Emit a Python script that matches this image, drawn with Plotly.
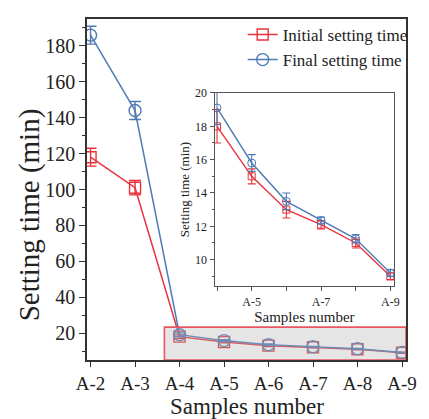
import plotly.graph_objects as go

samples = ["A-2", "A-3", "A-4", "A-5", "A-6", "A-7", "A-8", "A-9"]
initial = [118, 101, 18.0, 15.0, 13.0, 12.1, 11.0, 9.0]
initial_err = [5, 4, 1.0, 0.45, 0.5, 0.25, 0.3, 0.2]
final = [186, 144, 19.1, 15.8, 13.5, 12.35, 11.25, 9.2]
final_err = [5, 5, 1.0, 0.5, 0.5, 0.2, 0.25, 0.2]

inset_samples = samples[2:]
inset_initial = initial[2:]
inset_initial_err = initial_err[2:]
inset_final = final[2:]
inset_final_err = final_err[2:]
inset_ticktext = ["", "A-5", "", "A-7", "", "A-9"]

RED = "#e8323c"
BLUE = "#4f7bb5"
FONT = "Liberation Serif"
AX = "#333333"

fig = go.Figure()

fig.add_trace(go.Scatter(
    x=samples, y=initial, name="Initial setting time", mode="lines+markers",
    line=dict(color=RED, width=1.5),
    marker=dict(symbol="square-open", size=11, color=RED, line=dict(width=1.4)),
    error_y=dict(type="data", array=initial_err, color=RED, thickness=1.4, width=6),
    xaxis="x", yaxis="y"))
fig.add_trace(go.Scatter(
    x=samples, y=final, name="Final setting time", mode="lines+markers",
    line=dict(color=BLUE, width=1.5),
    marker=dict(symbol="circle-open", size=12, color=BLUE, line=dict(width=1.4)),
    error_y=dict(type="data", array=final_err, color=BLUE, thickness=1.4, width=6),
    xaxis="x", yaxis="y"))

fig.add_trace(go.Scatter(
    x=inset_samples, y=inset_initial, mode="lines+markers", showlegend=False,
    line=dict(color=RED, width=1.4),
    marker=dict(symbol="square-open", size=7, color=RED, line=dict(width=1)),
    error_y=dict(type="data", array=inset_initial_err, color=RED, thickness=1.1, width=4),
    xaxis="x2", yaxis="y2"))
fig.add_trace(go.Scatter(
    x=inset_samples, y=inset_final, mode="lines+markers", showlegend=False,
    line=dict(color=BLUE, width=1.4),
    marker=dict(symbol="circle-open", size=8, color=BLUE, line=dict(width=1)),
    error_y=dict(type="data", array=inset_final_err, color=BLUE, thickness=1.1, width=4),
    xaxis="x2", yaxis="y2"))

fig.add_shape(type="rect", xref="x", yref="y", x0=1.66, x1=7.09, y0=5, y1=23.3,
              line=dict(color="#e85560", width=1.6),
              fillcolor="rgba(175,175,175,0.33)", layer="above")

fig.update_layout(
    width=429, height=419,
    margin=dict(l=87, r=13, t=14, b=59),
    paper_bgcolor="white", plot_bgcolor="white",
    font=dict(family=FONT, color="#222222"),
    showlegend=True,
    legend=dict(x=0.488, y=1.006, xanchor="left", yanchor="top",
                font=dict(family=FONT, size=17, color="#222222"),
                bgcolor="rgba(0,0,0,0)", tracegroupgap=0, itemwidth=30),
    xaxis=dict(type="category", range=[-0.08, 7.09], showgrid=False, zeroline=False,
               showline=True, linecolor=AX, linewidth=1.5, mirror=True,
               ticks="outside", ticklen=5, tickwidth=1.3, tickcolor=AX,
               tickfont=dict(size=19, family=FONT)),
    yaxis=dict(range=[5, 195], tick0=0, dtick=20, showgrid=False, zeroline=False,
               showline=True, linecolor=AX, linewidth=1.5, mirror=True,
               ticks="outside", ticklen=6, tickwidth=1.3, tickcolor=AX,
               minor=dict(ticks="outside", ticklen=3, dtick=10, tick0=0, tickcolor=AX, showgrid=False),
               tickfont=dict(size=20, family=FONT)),
    xaxis2=dict(type="category", domain=[0.4, 0.963], anchor="y2", range=[-0.07, 5.11],
                tickmode="array", tickvals=inset_samples, ticktext=inset_ticktext,
                showgrid=False, zeroline=False, showline=True, linecolor="#555555", linewidth=1.2,
                mirror=True, ticks="outside", ticklen=4, tickwidth=1, tickcolor="#555555",
                tickfont=dict(size=12, family=FONT),
                title=dict(text="Samples number", font=dict(size=15, family=FONT), standoff=1)),
    yaxis2=dict(domain=[0.217, 0.783], anchor="x2", range=[8.42, 20], tick0=0, dtick=2,
                showgrid=False, zeroline=False, showline=True, linecolor="#555555", linewidth=1.2,
                mirror=True, ticks="outside", ticklen=4, tickwidth=1, tickcolor="#555555",
                minor=dict(ticks="outside", ticklen=2, dtick=1, tick0=0, tickcolor="#555555", showgrid=False),
                tickfont=dict(size=12, family=FONT),
                title=dict(text="Setting time (min)", font=dict(size=13, family=FONT), standoff=2)),
    annotations=[
        dict(text="Samples number", xref="paper", yref="paper", x=0.5, y=-0.135,
             xanchor="center", yanchor="middle", showarrow=False,
             font=dict(size=23, family=FONT, color="#222222")),
        dict(text="Setting time (min)", xref="paper", yref="paper", x=-0.182, y=0.427,
             xanchor="center", yanchor="middle", textangle=-90, showarrow=False,
             font=dict(size=29, family=FONT, color="#222222")),
    ],
)

fig.write_html("out.html")
